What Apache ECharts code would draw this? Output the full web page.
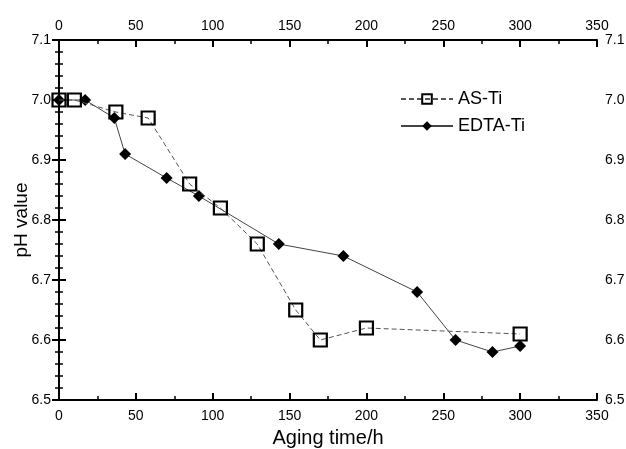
<!DOCTYPE html>
<html>
<head>
    <meta charset="utf-8">
    <title>pH value vs aging time</title>
    <script src="https://cdn.jsdelivr.net/npm/echarts@6/dist/echarts.min.js"></script>
    <style>
        html, body { margin: 0; padding: 0; background: #fff; }
        #chart { width: 626px; height: 449px; }
    </style>
</head>
<body>
<div id="chart"></div>
<script type="text/javascript">
    // AS-Ti (open squares)
    var asTiTime = [0, 10, 37, 58, 85, 105, 129, 154, 170, 200, 300];
    var asTiPh = [7.00, 7.00, 6.98, 6.97, 6.86, 6.82, 6.76, 6.65, 6.60, 6.62, 6.61];
    // EDTA-Ti (filled diamonds)
    var edtaTime = [0, 17, 36, 43, 70, 91, 143, 185, 233, 258, 282, 300];
    var edtaPh = [7.00, 7.00, 6.97, 6.91, 6.87, 6.84, 6.76, 6.74, 6.68, 6.60, 6.58, 6.59];

    var xTicks = [0, 50, 100, 150, 200, 250, 300, 350];
    var yTicks = [6.5, 6.6, 6.7, 6.8, 6.9, 7.0, 7.1];

    function pairs(xs, ys) {
        var out = [];
        for (var i = 0; i < xs.length; i++) {
            out.push([xs[i], ys[i]]);
        }
        return out;
    }

    var font = 'Liberation Sans, Arial, sans-serif';
    var axisLine = {show: true, lineStyle: {color: '#000', width: 2}};
    var tickStyle = {show: true, inside: true, length: 7, lineStyle: {color: '#000', width: 2}};

    function xAxisCfg(pos) {
        return {
            type: 'value', position: pos,
            min: xTicks[0], max: xTicks[xTicks.length - 1], interval: 50,
            axisLine: axisLine, axisTick: tickStyle,
            minorTick: {show: true, splitNumber: 2, length: 4, lineStyle: {color: '#000', width: 1.5}},
            splitLine: {show: false},
            axisLabel: {color: '#000', fontSize: 14, fontFamily: font, margin: pos === 'bottom' ? 9 : 7}
        };
    }

    function yAxisCfg(pos) {
        return {
            type: 'value', position: pos,
            min: yTicks[0], max: yTicks[yTicks.length - 1], interval: 0.1,
            axisLine: axisLine, axisTick: tickStyle,
            minorTick: {show: true, splitNumber: 5, length: 4, lineStyle: {color: '#000', width: 1.5}},
            splitLine: {show: false},
            axisLabel: {
                color: '#000', fontSize: 14, fontFamily: font, margin: 8,
                formatter: function (v) { return v.toFixed(1); }
            }
        };
    }

    var chart = echarts.init(document.getElementById('chart'));
    var bottomX = xAxisCfg('bottom');
    bottomX.name = 'Aging time/h';
    bottomX.nameLocation = 'middle';
    bottomX.nameGap = 28;
    bottomX.nameTextStyle = {color: '#000', fontSize: 20, fontFamily: font};
    var leftY = yAxisCfg('left');
    leftY.name = 'pH value';
    leftY.nameLocation = 'middle';
    leftY.nameGap = 28;
    leftY.nameMoveOverlap = false;
    leftY.nameTextStyle = {color: '#000', fontSize: 19, fontFamily: font};

    var option = {
        backgroundColor: '#fff',
        animation: false,
        grid: {left: 59, right: 29, top: 40, bottom: 49, containLabel: false, outerBoundsMode: 'none'},
        xAxis: [bottomX, xAxisCfg('top')],
        yAxis: [leftY, yAxisCfg('right')],
        legend: {
            orient: 'vertical',
            left: 395, top: 85,
            itemWidth: 52, itemHeight: 12, itemGap: 9,
            textStyle: {color: '#000', fontSize: 18, fontFamily: font},
            data: ['AS-Ti', 'EDTA-Ti']
        },
        series: [
            {
                name: 'AS-Ti', type: 'line',
                data: pairs(asTiTime, asTiPh),
                symbol: 'rect', symbolSize: 13,
                itemStyle: {color: 'rgba(255,255,255,0)', borderColor: '#000', borderWidth: 2.2},
                lineStyle: {color: '#555', width: 1, type: [5, 3]},
                z: 3
            },
            {
                name: 'EDTA-Ti', type: 'line',
                data: pairs(edtaTime, edtaPh),
                symbol: 'diamond', symbolSize: 12,
                itemStyle: {color: '#000'},
                lineStyle: {color: '#444', width: 1},
                z: 2
            }
        ]
    };
    chart.setOption(option);
</script>
</body>
</html>
